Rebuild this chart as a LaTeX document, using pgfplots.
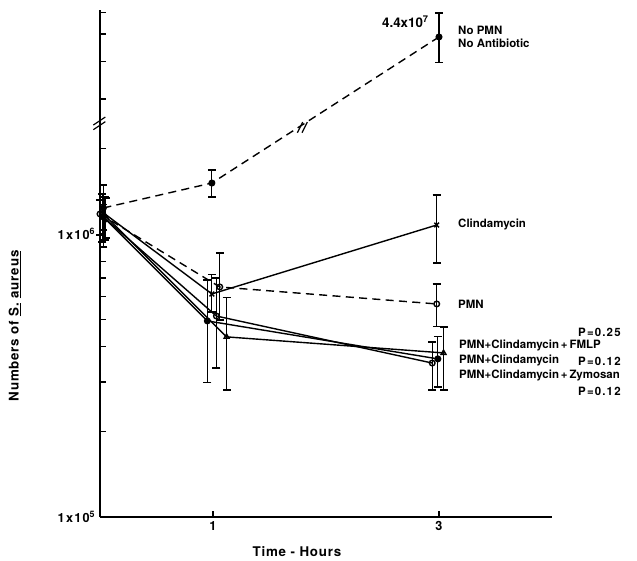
\documentclass[border=0pt]{standalone}
\usepackage{fontspec}
\setmainfont{TeX Gyre Heros}
\usepackage{pgfplots}
\pgfplotsset{compat=1.18}

\newcommand{\lbl}{\fontsize{8.6}{9.75}\selectfont\bfseries}
\newcommand{\plbl}{\fontsize{8.6}{9.75}\selectfont\bfseries\addfontfeature{LetterSpace=10}}
\newcommand{\biglbl}{\fontsize{10}{12}\selectfont\bfseries\addfontfeature{LetterSpace=6}}

\pgfplotsset{
  ser/.style={line width=1.05pt, black, mark size=2.1pt,
    error bars/y dir=both, error bars/y explicit,
    error bars/error bar style={line width=0.9pt, solid},
    error bars/error mark options={line width=0.9pt, mark size=3pt, solid, rotate=90}},
  dash/.style={dash pattern=on 6pt off 4pt},
}

\begin{document}
\begin{tikzpicture}
\useasboundingbox (-75pt,-33pt) rectangle (402.75pt,387.75pt);
\begin{axis}[
  scale only axis, width=339pt, height=380.25pt,
  ymode=log, xmin=0, xmax=4, ymin=1e5, ymax=6.19e6,
  axis lines=left, axis line style={-, line width=1.3pt},
  tick align=inside, major tick length=4.5pt,
  tick style={line width=1pt, black},
  xtick={1,3}, xticklabels={1,3},
  % upper four ticks belong to the broken segment above the //
  ytick={1e5,2e5,3e5,4e5,5e5,6e5,7e5,8e5,9e5,1e6,2e6,3.0e6,4.06e6,5.09e6,6.08e6},
  yticklabels={1x10\textsuperscript{5},,,,,,,,,1x10\textsuperscript{6},,,,,},
  yminorticks=false,
  tick label style={font=\fontsize{9.5}{10}\selectfont\bfseries\addfontfeature{LetterSpace=10}},
  clip=false,
]

% No PMN, no antibiotic
% axis is broken above 2x10^6: the 3 h value 4.4x10^7 (range 3.59e7..5.35e7)
% sits at the height of 4.97e6 (all values there divided by 8.86)
\addplot[line width=1.05pt, black, dash, mark=*, mark size=2.1pt, mark options={solid}]
  coordinates {(0.03,1.236e6) (0.99,1.514e6) (3.0,4.97e6)};
\addplot[ser, draw=none, mark=none] coordinates {
  (0.03,1.236e6) += (0,2.54e5) -= (0,3.37e5)
  (0.99,1.514e6) += (0,1.69e5) -= (0,1.63e5)
  (3.0,4.97e6) += (0,1.07e6) -= (0,9.2e5)
};

% Clindamycin
\addplot[ser, mark=x, mark size=2.5pt] coordinates {
  (0.02,1.196e6) += (0,1.88e5) -= (0,2.59e5)
  (0.99,6.14e5) += (0,1.03e5) -= (0,8.4e4)
  (2.98,1.076e6) += (0,2.97e5) -= (0,2.86e5)
};

% PMN
\addplot[ser, dash, mark=o, mark options={solid, fill=white}] coordinates {
  (0.0,1.177e6) += (0,1.42e5) -= (0,1.85e5)
  (1.06,6.50e5) += (0,2.07e5) -= (0,1.53e5)
  (2.98,5.66e5) += (0,1.0e5) -= (0,9.6e4)
};

% PMN + Clindamycin + FMLP
\addplot[ser, mark=triangle, mark options={fill=white}] coordinates {
  (0.04,1.167e6) += (0,1.84e5) -= (0,2.15e5)
  (1.12,4.33e5) += (0,1.62e5) -= (0,1.52e5)
  (3.04,3.80e5) += (0,8.9e4) -= (0,9.9e4)
};

% PMN + Clindamycin
\addplot[ser, mark=*] coordinates {
  (0.03,1.148e6) += (0,1.23e5) -= (0,1.15e5)
  (0.95,4.93e5) += (0,1.95e5) -= (0,1.95e5)
  (2.99,3.62e5) += (0,7.1e4) -= (0,7.4e4)
};

% PMN + Clindamycin + Zymosan
\addplot[ser, mark=o, mark options={fill=white}] coordinates {
  (0.05,1.13e6) += (0,2.1e5) -= (0,1.62e5)
  (1.03,5.13e5) += (0,1.86e5) -= (0,1.77e5)
  (2.94,3.50e5) += (0,6.5e4) -= (0,6.9e4)
};

% break marks
\draw[line width=0.9pt] ([xshift=-5pt,yshift=-5pt]rel axis cs:0,0.777) -- ++(9pt,6pt);
\draw[line width=0.9pt] ([xshift=-5pt,yshift=-1.5pt]rel axis cs:0,0.777) -- ++(9pt,6pt);
\draw[line width=0.9pt] ([xshift=-2pt,yshift=-5pt]rel axis cs:0.4425,0.771) -- ++(4pt,8pt);
\draw[line width=0.9pt] ([xshift=1.5pt,yshift=-5pt]rel axis cs:0.4425,0.771) -- ++(4pt,8pt);

% labels
\node[anchor=east, font=\fontsize{10}{12}\selectfont\bfseries, inner sep=0pt] at (rel axis cs:0.728,0.976) {4.4x10\textsuperscript{7}};
\node[anchor=west, font=\lbl, align=left, inner sep=0pt] at (rel axis cs:0.792,0.9477) {No PMN\\No Antibiotic};
\node[anchor=west, font=\lbl, inner sep=0pt] at (rel axis cs:0.792,0.5779) {Clindamycin};
\node[anchor=west, font=\lbl, inner sep=0pt] at (rel axis cs:0.792,0.4201) {PMN};
\node[anchor=west, font=\plbl, inner sep=0pt] at (rel axis cs:1.0575,0.3649) {P=0.25};
\node[anchor=west, font=\lbl, inner sep=0pt] at (rel axis cs:0.794,0.3373) {PMN+Clindamycin\,+\,FMLP};
\node[anchor=west, font=\lbl, inner sep=0pt] at (rel axis cs:0.794,0.3077) {PMN+Clindamycin};
\node[anchor=west, font=\plbl, inner sep=0pt] at (rel axis cs:1.0575,0.3077) {P=0.12};
\node[anchor=west, font=\lbl, inner sep=0pt] at (rel axis cs:0.794,0.2781) {PMN+Clindamycin\,+\,Zymosan};
\node[anchor=west, font=\plbl, inner sep=0pt] at (rel axis cs:1.0575,0.2485) {P=0.12};

\node[font=\biglbl] at (rel axis cs:0.4358,-0.069) {Time - Hours};
\node[font=\biglbl, rotate=90] at (rel axis cs:-0.188,0.3767) {Numbers of \underline{S.} \underline{aureus}};
\end{axis}
\end{tikzpicture}
\end{document}
